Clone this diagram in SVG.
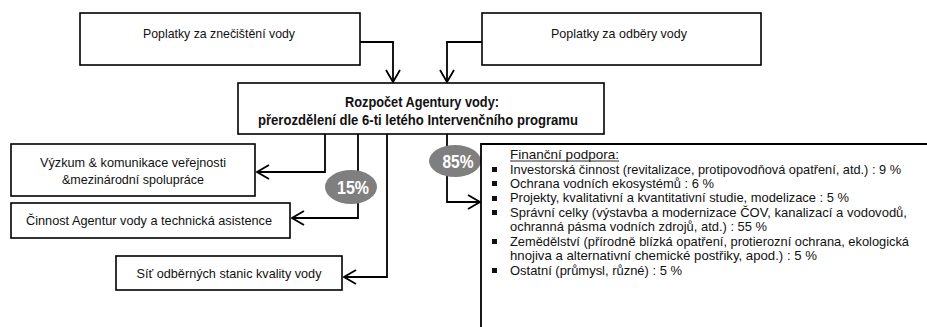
<svg xmlns="http://www.w3.org/2000/svg" width="927" height="327" viewBox="0 0 927 327">
<defs>
<style>
.box{fill:#fff;stroke:#000;stroke-width:1.6}
.t{font-family:"Liberation Sans",Arial,sans-serif;font-size:13.5px;fill:#111}
.s{font-size:13px}
.tc{text-anchor:middle}
.b{font-weight:bold;font-size:14px}
.pct{font-family:"Liberation Sans",Arial,sans-serif;font-weight:bold;font-size:18px;fill:#fff;text-anchor:middle}
.ell{fill:#7f7f7f}
.con{fill:none;stroke:#000;stroke-width:1.8}
.bul{fill:#111}
</style>
<marker id="arr" markerUnits="userSpaceOnUse" markerWidth="14" markerHeight="16" viewBox="0 0 14 16" refX="13" refY="8" orient="auto">
<path d="M1,1 L13,8 L1,15" fill="none" stroke="#000" stroke-width="1.8"/>
</marker>
</defs>
<rect width="927" height="327" fill="#fff"/>

<g id="connectors">
<path class="con" d="M360,42 H393 V82" marker-end="url(#arr)"/>
<path class="con" d="M482,42 H447 V82" marker-end="url(#arr)"/>
<path class="con" d="M325,134 V172 H257" marker-end="url(#arr)"/>
<path class="con" d="M358,134 V218 H292" marker-end="url(#arr)"/>
<path class="con" d="M387,134 V277 H344" marker-end="url(#arr)"/>
<path class="con" d="M447,134 V202 H480" marker-end="url(#arr)"/>
</g>

<g id="n-znecisteni">
<rect class="box" x="80" y="13" width="280" height="52"/>
<text class="t tc" x="219" y="37.5" textLength="152" lengthAdjust="spacingAndGlyphs">Poplatky za znečištění vody</text>
</g>

<g id="n-odbery">
<rect class="box" x="482" y="13" width="279" height="52"/>
<text class="t tc" x="619" y="37.5" textLength="136" lengthAdjust="spacingAndGlyphs">Poplatky za odběry vody</text>
</g>

<g id="n-rozpocet">
<rect class="box" x="238" y="83" width="366" height="51"/>
<text class="t tc b" x="422" y="107" textLength="154" lengthAdjust="spacingAndGlyphs">Rozpočet Agentury vody:</text>
<text class="t tc b" x="418" y="125" textLength="320" lengthAdjust="spacingAndGlyphs">přerozdělení dle 6-ti letého Intervenčního programu</text>
</g>

<g id="n-vyzkum">
<rect class="box" x="11" y="144" width="244" height="52"/>
<text class="t tc" x="133" y="167" textLength="186" lengthAdjust="spacingAndGlyphs">Výzkum &amp; komunikace veřejnosti</text>
<text class="t tc" x="133" y="184" textLength="142" lengthAdjust="spacingAndGlyphs">&amp;mezinárodní spolupráce</text>
</g>

<g id="n-cinnost">
<rect class="box" x="11" y="203" width="279" height="35"/>
<text class="t tc" x="149" y="225" textLength="246" lengthAdjust="spacingAndGlyphs">Činnost Agentur vody a technická asistence</text>
</g>

<g id="n-sit">
<rect class="box" x="116" y="256" width="226" height="34"/>
<text class="t tc" x="229" y="278" textLength="185" lengthAdjust="spacingAndGlyphs">Síť odběrných stanic kvality vody</text>
</g>

<g id="n-15">
<ellipse class="ell" cx="351" cy="187" rx="26" ry="17"/>
<text class="pct" x="353" y="194" textLength="32" lengthAdjust="spacingAndGlyphs">15%</text>
</g>

<g id="n-85">
<ellipse class="ell" cx="455" cy="161" rx="26" ry="16"/>
<text class="pct" x="458" y="168" textLength="31" lengthAdjust="spacingAndGlyphs">85%</text>
</g>

<g id="n-financni">
<path class="con" d="M481,328 V144 H928" stroke-width="1.6"/>
<text class="t s" x="510" y="159" textLength="109" lengthAdjust="spacingAndGlyphs">Finanční podpora:</text>
<line x1="510" y1="161" x2="619" y2="161" stroke="#111" stroke-width="0.9"/>
<rect class="bul" x="492" y="167" width="5" height="5"/>
<text class="t s" x="510" y="173.5" textLength="391" lengthAdjust="spacingAndGlyphs">Investorská činnost (revitalizace, protipovodňová opatření, atd.) : 9 %</text>
<rect class="bul" x="492" y="181" width="5" height="5"/>
<text class="t s" x="510" y="187.5" textLength="204" lengthAdjust="spacingAndGlyphs">Ochrana vodních ekosystémů : 6 %</text>
<rect class="bul" x="492" y="196" width="5" height="5"/>
<text class="t s" x="510" y="202" textLength="339" lengthAdjust="spacingAndGlyphs">Projekty, kvalitativní a kvantitativní studie, modelizace : 5 %</text>
<rect class="bul" x="492" y="210" width="5" height="5"/>
<text class="t s" x="510" y="216.5" textLength="397" lengthAdjust="spacingAndGlyphs">Správní celky (výstavba a modernizace ČOV, kanalizací a vodovodů,</text>
<text class="t s" x="510" y="231" textLength="257" lengthAdjust="spacingAndGlyphs">ochranná pásma vodních zdrojů, atd.) : 55 %</text>
<rect class="bul" x="492" y="239" width="5" height="5"/>
<text class="t s" x="510" y="245.5" textLength="399" lengthAdjust="spacingAndGlyphs">Zemědělství (přírodně blízká opatření, protierozní ochrana, ekologická</text>
<text class="t s" x="510" y="260" textLength="307" lengthAdjust="spacingAndGlyphs">hnojiva a alternativní chemické postřiky, apod.) : 5 %</text>
<rect class="bul" x="492" y="268" width="5" height="5"/>
<text class="t s" x="510" y="274.5" textLength="172" lengthAdjust="spacingAndGlyphs">Ostatní (průmysl, různé) : 5 %</text>
</g>
</svg>
